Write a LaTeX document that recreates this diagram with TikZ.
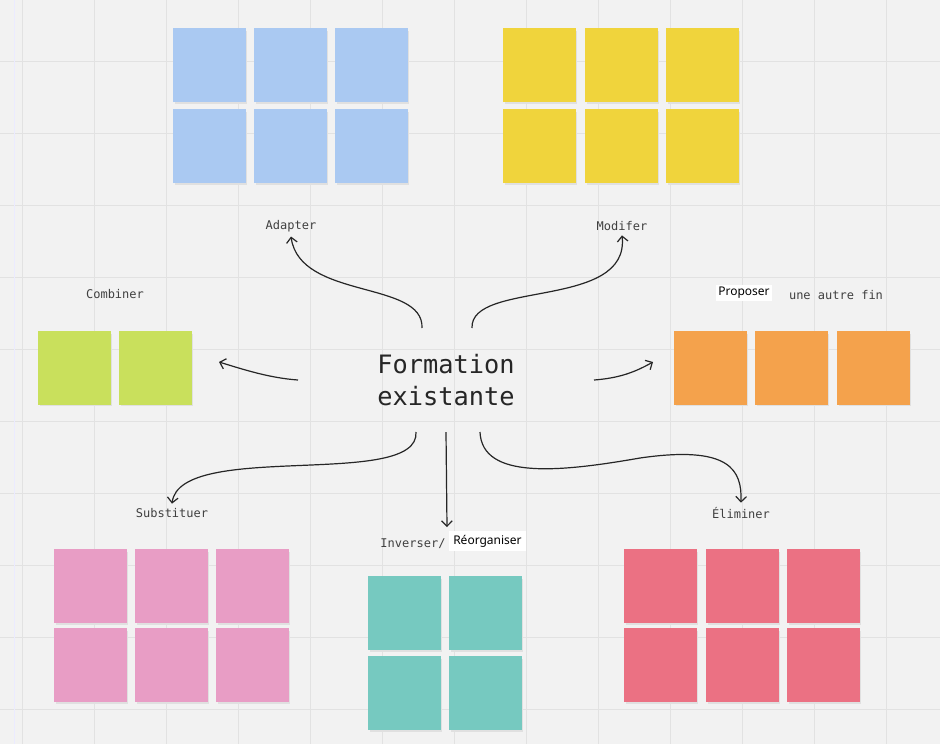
\documentclass[tikz,border=0pt]{standalone}
\usepackage{fontspec}
\setmainfont{DejaVu Sans Mono}
\newfontfamily\sansf{Noto Sans}
\usetikzlibrary{positioning,arrows.meta}
\definecolor{bgc}{HTML}{F2F2F2}
\definecolor{gridc}{HTML}{E2E2E2}
\definecolor{sblue}{HTML}{AAC9F2}
\definecolor{syellow}{HTML}{F0D43C}
\definecolor{sgreen}{HTML}{C9E05C}
\definecolor{sorange}{HTML}{F4A24C}
\definecolor{spink}{HTML}{E89DC5}
\definecolor{steal}{HTML}{76C9C0}
\definecolor{sred}{HTML}{EB7183}
\begin{document}
\begin{tikzpicture}[
  x=0.75pt,y=-0.75pt,
  sticky/.style={minimum width=55pt,minimum height=55.5pt,inner sep=0pt,fill=#1},
  lbl/.style={font=\fontsize{9}{10}\selectfont,text=black!75},
  arr/.style={line width=0.9pt,black!85,-{Straight Barb[length=4pt,width=8pt]}},
]
  \fill[bgc] (0,0) rectangle (940,744);
  \useasboundingbox (0,0) rectangle (940,744);
  \foreach \x in {22,94,...,940} \draw[gridc] (\x,0) -- (\x,744);
  \foreach \y in {-11,61,...,744} \draw[gridc] (0,\y) -- (940,\y);
  \draw[blue!8] (14,0) -- (14,744);

  % stickies
  \foreach \x in {209.5,290.5,371.5} \foreach \y in {65,145.5}
    {\fill[black!12] (\x-35,\y-34) rectangle (\x+37,\y+39);
     \node[sticky=sblue] at (\x,\y) {};}
  \foreach \x in {539.5,621.5,702.5} \foreach \y in {65,145.5}
    {\fill[black!12] (\x-35,\y-34) rectangle (\x+37,\y+39);
     \node[sticky=syellow] at (\x,\y) {};}
  \foreach \x in {74.5,155.5}
    {\fill[black!12] (\x-35,334) rectangle (\x+37,406);
     \node[sticky=sgreen] at (\x,368) {};}
  \foreach \x in {710.5,791.5,873.5}
    {\fill[black!12] (\x-35,334) rectangle (\x+37,406);
     \node[sticky=sorange] at (\x,368) {};}
  \foreach \x in {90.5,171.5,252.5} \foreach \y in {585.5,665}
    {\fill[black!12] (\x-35,\y-34) rectangle (\x+37,\y+39);
     \node[sticky=spink] at (\x,\y) {};}
  \foreach \x in {404.5,485.5} \foreach \y in {612.5,693}
    {\fill[black!12] (\x-35,\y-34) rectangle (\x+37,\y+39);
     \node[sticky=steal] at (\x,\y) {};}
  \foreach \x in {660.5,742.5,823.5} \foreach \y in {585.5,665}
    {\fill[black!12] (\x-35,\y-34) rectangle (\x+37,\y+39);
     \node[sticky=sred] at (\x,\y) {};}

  % labels
  \node[align=center,font=\fontsize{19}{24}\selectfont,text=black!85] (centre) at (446,380) {Formation\\existante};
  \node[lbl] (adapter) at (291,226) {Adapter};
  \node[lbl] (modifer) at (622,226) {Modifer};
  \node[lbl] (combiner) at (115,294) {Combiner};
  \node[lbl] (autre) at (836,295) {une autre fin};
  \node[font=\sansf\fontsize{9}{10}\selectfont,fill=white,inner sep=2pt] (proposer) at (744,293) {Proposer};
  \node[lbl] (substituer) at (172,513) {Substituer};
  \node[lbl] (eliminer) at (741,513) {Éliminer};
  \node[lbl] (inverser) at (413,544) {Inverser/};
  \node[font=\sansf\fontsize{9}{10}\selectfont,fill=white,inner sep=3pt,anchor=west] (reorg) at (449,541) {Réorganiser};

  % arrows
  \coordinate (cA) at (422,328);
  \coordinate (cM) at (472,328);
  \coordinate (cC) at (298,380);
  \coordinate (cP) at (594,380);
  \coordinate (cS) at (416,432);
  \coordinate (cI) at (446,432);
  \coordinate (cE) at (480,432);
  \coordinate (tC) at (219,362);
  \coordinate (tP) at (653,362);
  \draw[arr] (cA) .. controls (424,280) and (300,300) .. (adapter.south);
  \draw[arr] (cM) .. controls (470,280) and (630,310) .. (modifer.south);
  \draw[arr] (cC) .. controls (270,378) and (245,370) .. (tC);
  \draw[arr] (cP) .. controls (620,378) and (635,372) .. (tP);
  \draw[arr] (cS) .. controls (420,490) and (180,440) .. (substituer.north);
  \draw[arr] (cI) -- (447,527);
  \draw[arr] (cE) .. controls (482,480) and (560,472) .. (640,458) .. controls (730,445) and (742,470) .. (eliminer.north);
\end{tikzpicture}
\end{document}
